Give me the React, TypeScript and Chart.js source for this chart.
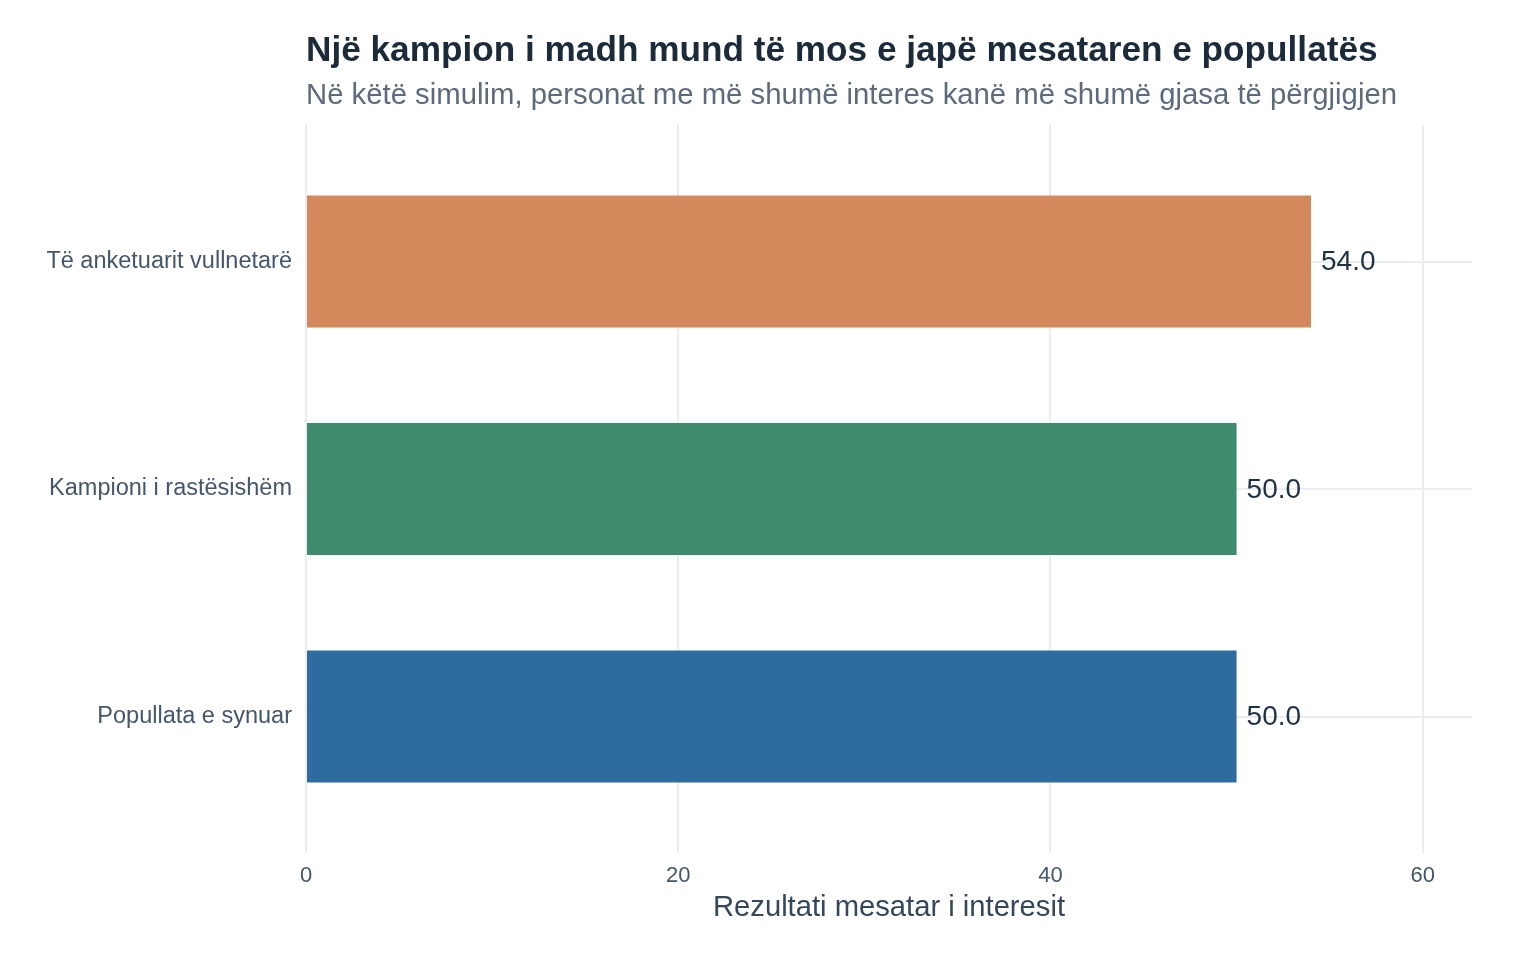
import React, { useEffect, useRef } from 'react';
import { Chart, registerables } from 'chart.js';

Chart.register(...registerables);

const categories = ['Të anketuarit vullnetarë', 'Kampioni i rastësishëm', 'Popullata e synuar'];
const meanScores = [54.0, 50.0, 50.0];
const barColors = ['#d4895c', '#3f8b6d', '#2e6ca0'];
const xTicks = [0, 20, 40, 60];

const titleText = 'Një kampion i madh mund të mos e japë mesataren e popullatës';
const subtitleText = 'Në këtë simulim, personat me më shumë interes kanë më shumë gjasa të përgjigjen';
const xTitle = 'Rezultati mesatar i interesit';

const FONT = '"Liberation Sans", Arial, sans-serif';

const annotations = {
    id: 'annotations',
    afterDatasetsDraw(chart: any) {
        const { ctx, chartArea } = chart;
        ctx.save();
        // heading
        ctx.textAlign = 'left';
        ctx.textBaseline = 'alphabetic';
        ctx.fillStyle = '#1c2b3a';
        ctx.font = `bold 35.2px ${FONT}`;
        ctx.fillText(titleText, chartArea.left, 61);
        ctx.fillStyle = '#5b6b7b';
        ctx.font = `29.3px ${FONT}`;
        ctx.fillText(subtitleText, chartArea.left, 104);

        // value labels at bar ends
        const meta = chart.getDatasetMeta(0);
        ctx.fillStyle = '#1e3246';
        ctx.font = `28px ${FONT}`;
        ctx.textBaseline = 'middle';
        meta.data.forEach((bar: any, i: number) => {
            ctx.fillText(meanScores[i].toFixed(1), bar.x + 10, bar.y + 1);
        });
        ctx.restore();
    },
};

const App: React.FC = () => {
    const chartRef = useRef<HTMLCanvasElement>(null);

    useEffect(() => {
        const ctx = chartRef.current?.getContext('2d');
        if (!ctx) return;
        const chart = new Chart(ctx, {
            type: 'bar',
            data: {
                datasets: [
                    {
                        data: meanScores.map((v, i) => ({ x: v, y: i + 1 })),
                        backgroundColor: barColors,
                        borderWidth: 0,
                        categoryPercentage: 1,
                        barPercentage: 0.58,
                    },
                ],
            },
            options: {
                indexAxis: 'y',
                animation: false,
                responsive: true,
                maintainAspectRatio: false,
                layout: { padding: { top: 125, right: 64, bottom: 0, left: 0 } },
                plugins: {
                    legend: { display: false },
                    tooltip: { enabled: false },
                },
                scales: {
                    x: {
                        type: 'linear',
                        min: 0,
                        max: 62.65,
                        afterBuildTicks: (scale: any) => {
                            scale.ticks = xTicks.map((v) => ({ value: v }));
                        },
                        afterFit: (scale: any) => {
                            scale.height = 960 - 853;
                        },
                        grid: { color: '#eaedf1', lineWidth: 2, drawTicks: false },
                        border: { display: false },
                        ticks: {
                            color: '#44566a',
                            font: { family: FONT, size: 22 },
                            padding: 10,
                        },
                        title: {
                            display: true,
                            text: xTitle,
                            color: '#34475b',
                            font: { family: FONT, size: 29.2 },
                            padding: { top: 0, bottom: 35 },
                        },
                    },
                    y: {
                        type: 'linear',
                        reverse: true,
                        offset: false,
                        min: 0.4,
                        max: 3.6,
                        afterBuildTicks: (scale: any) => {
                            scale.ticks = categories.map((_, i) => ({ value: i + 1 }));
                        },
                        afterFit: (scale: any) => {
                            scale.width = 306;
                        },
                        grid: { color: '#eaedf1', lineWidth: 2, drawTicks: false, offset: false },
                        border: { display: false },
                        ticks: {
                            color: '#44566a',
                            font: { family: FONT, size: 23.5 },
                            padding: 14,
                            callback: (v: any) => categories[Number(v) - 1] ?? '',
                        },
                    },
                },
            },
            plugins: [annotations],
        });
        return () => chart.destroy();
    }, []);

    return (
        <div style={{ position: 'absolute', left: 0, top: 0, width: 1536, height: 960, background: '#ffffff' }}>
            <canvas ref={chartRef}></canvas>
        </div>
    );
};

export default App;
